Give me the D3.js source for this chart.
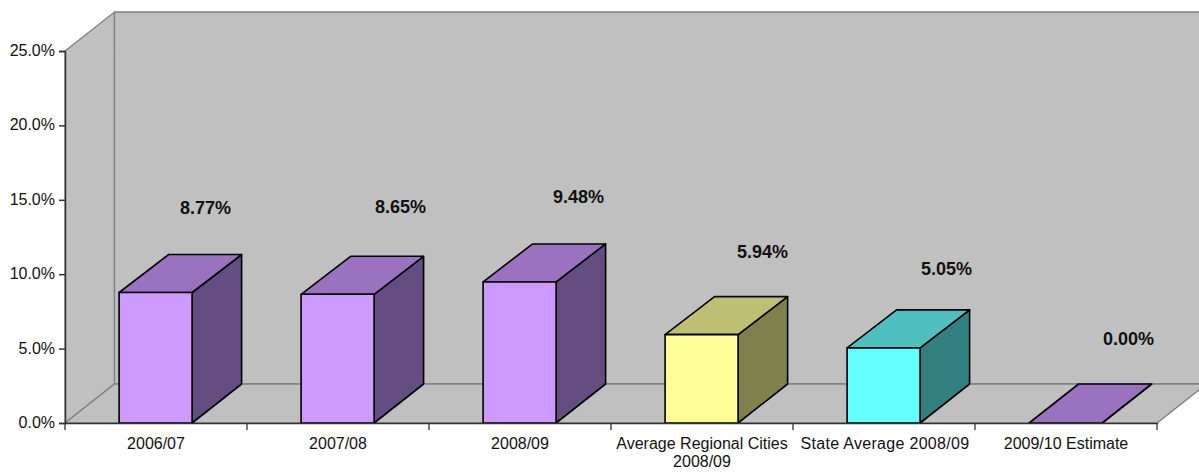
<!DOCTYPE html>
<html>
<head>
<meta charset="utf-8">
<script src="https://cdn.jsdelivr.net/npm/d3@7/dist/d3.min.js"></script>
<style>
  html, body { margin: 0; padding: 0; background: #fff; }
  svg { display: block; }
  text { font-family: "Liberation Sans", Arial, sans-serif; fill: #111; }
</style>
</head>
<body>
<svg id="chart" width="1199" height="475"></svg>
<script>
// Rate by period, in percent
const categories = ["2006/07", "2007/08", "2008/09", "Average Regional Cities 2008/09", "State Average 2008/09", "2009/10 Estimate"];
const rates = [8.77, 8.65, 9.48, 5.94, 5.05, 0.00];
const rateLabels = ["8.77%", "8.65%", "9.48%", "5.94%", "5.05%", "0.00%"];
const yTicks = [0, 5, 10, 15, 20, 25];

// Face colours per bar: front, top, side
const purple = { front: "#CC99FF", top: "#9B72C0", side: "#644D80" };
const yellow = { front: "#FFFF99", top: "#BFBF73", side: "#80804D" };
const cyan = { front: "#66FFFF", top: "#4FBFBF", side: "#338080" };
const palette = [purple, purple, purple, yellow, cyan, purple];

// Hand-placed label offsets relative to each bar's top-right area
const labelNudgeX = [0, 13, 9, 11, 13, 13];
const labelNudgeY = [0, -3, 0, 2, 6, 0];

const svg = d3.select("#chart");
const margin = { left: 65, right: 1157, top: 51, bottom: 423 };
const depthX = 49.5, depthY = -39;
const barWidth = 73;
// Raised bars recede very slightly less than the floor does
const topDepth = v => v > 0 ? -38 : depthY;

const x = d3.scaleBand().domain(categories).range([margin.left, margin.right]);
const y = d3.scaleLinear().domain([0, 25]).range([margin.bottom, margin.top]);

const poly = pts => pts.map(p => p.join(",")).join(" ");
const wallColor = "#C0C0C0", wallEdge = "#808080";

// Walls and floor of the 3D box
const L = margin.left, R = margin.right, T = margin.top, B = margin.bottom;
const walls = [
  [[L, T], [L + depthX, T + depthY], [L + depthX, B + depthY], [L, B]],
  [[L + depthX, T + depthY], [R + depthX, T + depthY], [R + depthX, B + depthY], [L + depthX, B + depthY]],
  [[L, B], [L + depthX, B + depthY], [R + depthX, B + depthY], [R, B]]
];
svg.append("g").selectAll("polygon").data(walls).join("polygon")
  .attr("points", poly)
  .attr("fill", wallColor)
  .attr("stroke", wallEdge)
  .attr("stroke-width", 1.3);

// Bars: side, top, then front face
const bars = svg.append("g").selectAll("g").data(categories).join("g");
const leftOf = c => x(c) + x.bandwidth() / 2 - barWidth / 2 - 0.4;
const faceStyle = sel => sel.attr("stroke", "#000").attr("stroke-width", 1.6).attr("stroke-linejoin", "round");

bars.append("polygon").call(faceStyle)
  .attr("fill", (c, i) => palette[i].side)
  .attr("points", (c, i) => {
    const r = leftOf(c) + barWidth, t = y(rates[i]), b = y(0);
    return poly([[r, t], [r + depthX, t + topDepth(rates[i])], [r + depthX, b + depthY], [r, b]]);
  });
bars.append("polygon").call(faceStyle)
  .attr("fill", (c, i) => palette[i].top)
  .attr("points", (c, i) => {
    const l = leftOf(c), r = l + barWidth, t = y(rates[i]), d = topDepth(rates[i]);
    return poly([[l, t], [l + depthX, t + d], [r + depthX, t + d], [r, t]]);
  });
bars.append("rect").call(faceStyle)
  .attr("fill", (c, i) => palette[i].front)
  .attr("x", leftOf)
  .attr("width", barWidth)
  .attr("y", (c, i) => y(rates[i]))
  .attr("height", (c, i) => y(0) - y(rates[i]));

// Value axis
const axisColor = "#333";
const yAxis = svg.append("g").attr("transform", `translate(${L},0)`)
  .call(d3.axisLeft(y).tickValues(yTicks).tickSize(6).tickPadding(4).tickFormat(d => d3.format(".1f")(d) + "%"));
yAxis.selectAll("text").attr("font-size", 16).attr("dy", "0.28em").style("font-family", '"Liberation Sans", Arial, sans-serif');

// Category axis: labels at band centres, ticks at band edges
const xAxis = svg.append("g").attr("transform", `translate(0,${B})`)
  .call(d3.axisBottom(x).tickSize(0).tickPadding(15));
xAxis.selectAll("text").attr("font-size", 16).style("font-family", '"Liberation Sans", Arial, sans-serif')
  .each(function (d) {
    // Long category names wrap after "Cities"
    const parts = d.startsWith("Average") ? ["Average Regional Cities", "2008/09"] : [d];
    const t = d3.select(this).text(null);
    parts.forEach((p, i) => t.append("tspan").attr("x", 0).attr("dy", i ? "1.13em" : "0.71em").text(p));
    if (d.startsWith("State")) t.attr("letter-spacing", 0.3).attr("dx", 1);
  });
const edges = categories.map(c => x(c)).concat(R);
svg.append("g").selectAll("line").data(edges).join("line")
  .attr("x1", d => d).attr("x2", d => d)
  .attr("y1", B).attr("y2", B + 7)
  .attr("stroke", axisColor).attr("stroke-width", 1.3);
svg.selectAll(".domain, .tick line").attr("stroke", axisColor).attr("stroke-width", 1.5);

// Value labels floating above the bars
svg.append("g").selectAll("text").data(categories).join("text")
  .attr("text-anchor", "middle")
  .attr("font-weight", "bold")
  .attr("font-size", 18)
  .attr("x", (c, i) => leftOf(c) + barWidth / 2 + 49.8 + labelNudgeX[i])
  .attr("y", (c, i) => y(rates[i]) - 78.5 + labelNudgeY[i])
  .text((c, i) => rateLabels[i]);
</script>
</body>
</html>
